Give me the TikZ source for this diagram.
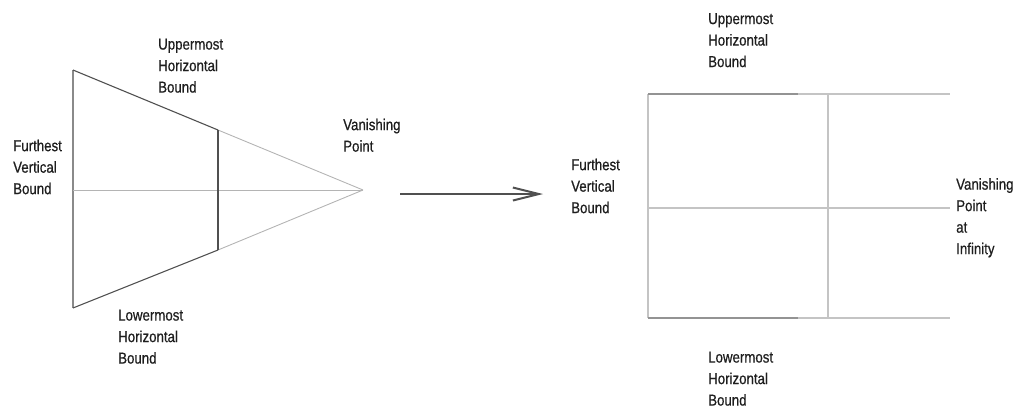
\documentclass[tikz,border=0pt]{standalone}
\usepackage{fontspec}
\setmainfont{Liberation Sans}[FakeStretch=0.84, FakeBold=0.6]
\usetikzlibrary{arrows.meta}
\definecolor{ink}{HTML}{1E1E1E}
\definecolor{edgedark}{HTML}{505050}
\definecolor{edgemid}{HTML}{8A8A8A}
\definecolor{edgelight}{HTML}{B4B4B4}
\definecolor{gridline}{HTML}{C4C4C4}
\tikzset{
  lbl/.style={anchor=north west, inner sep=0pt, align=left, text=ink,
    font=\fontsize{15.8}{21.5}\selectfont},
  darkedge/.style={draw=edgedark, line width=1.1pt},
  midedge/.style={draw=edgemid, line width=1.1pt},
  lightedge/.style={draw=edgelight, line width=0.9pt},
  gridedge/.style={draw=gridline, line width=1.4pt},
  gridedgedark/.style={draw=edgemid!85!gridline, line width=1.4pt},
  bigarrow/.style={draw=edgedark, line width=1.8pt,
    -{Straight Barb[length=26pt, width=13pt, line width=2pt]}},
}
\begin{document}
\begin{tikzpicture}[x=1pt, y=-1pt]
\useasboundingbox (0,0) rectangle (1019,407);

% ---- perspective view: converging bounds ----
\coordinate (topleft) at (73,70);
\coordinate (botleft) at (73,308);
\coordinate (midleft) at (73,190);
\coordinate (vp)      at (363,190);
\coordinate (cuttop)  at (218,130);
\coordinate (cutbot)  at (218,250);

\draw[midedge] (topleft) -- (botleft);
\draw[darkedge] (topleft) -- (cuttop);
\draw[lightedge] (cuttop) -- (vp);
\draw[darkedge] (botleft) -- (cutbot);
\draw[lightedge] (cutbot) -- (vp);
\draw[lightedge] (midleft) -- (vp);
\draw[darkedge, line width=1.5pt] (cuttop) -- (cutbot);

\node[lbl] (lfar)   at (13,139.5)  {Furthest\\Vertical\\Bound};
\node[lbl] (lupper) at (158,38.5)  {Uppermost\\Horizontal\\Bound};
\node[lbl] (llower) at (118,309.5) {Lowermost\\Horizontal\\Bound};
\node[lbl] (lvp)    at (343,118.5) {Vanishing\\Point};

% ---- transformation arrow ----
\coordinate (arrstart) at (400,194);
\coordinate (arrend)   at (543,194);
\draw[bigarrow] (arrstart) -- (arrend);

% ---- limit view: parallel bounds ----
\coordinate (gtl)  at (648,94);
\coordinate (gbl)  at (648,318);
\coordinate (gml)  at (648,208);
\coordinate (gtm)  at (798,94);
\coordinate (gbm)  at (798,318);
\coordinate (gtr)  at (950,94);
\coordinate (gbr)  at (950,318);
\coordinate (gmr)  at (950,208);
\coordinate (gvt)  at (828,94);
\coordinate (gvb)  at (828,318);

\draw[gridedge] (gtl) -- (gbl);
\draw[gridedgedark] (gtl) -- (gtm);
\draw[gridedge] (gtm) -- (gtr);
\draw[gridedgedark] (gbl) -- (gbm);
\draw[gridedge] (gbm) -- (gbr);
\draw[gridedge] (gml) -- (gmr);
\draw[gridedge] (gvt) -- (gvb);

\node[lbl] (rupper) at (708,13)    {Uppermost\\Horizontal\\Bound};
\node[lbl] (rfar)   at (571,158.5) {Furthest\\Vertical\\Bound};
\node[lbl] (rvp)    at (956,178)   {Vanishing\\Point\\at\\Infinity};
\node[lbl] (rlower) at (708,351.5) {Lowermost\\Horizontal\\Bound};
\end{tikzpicture}
\end{document}
